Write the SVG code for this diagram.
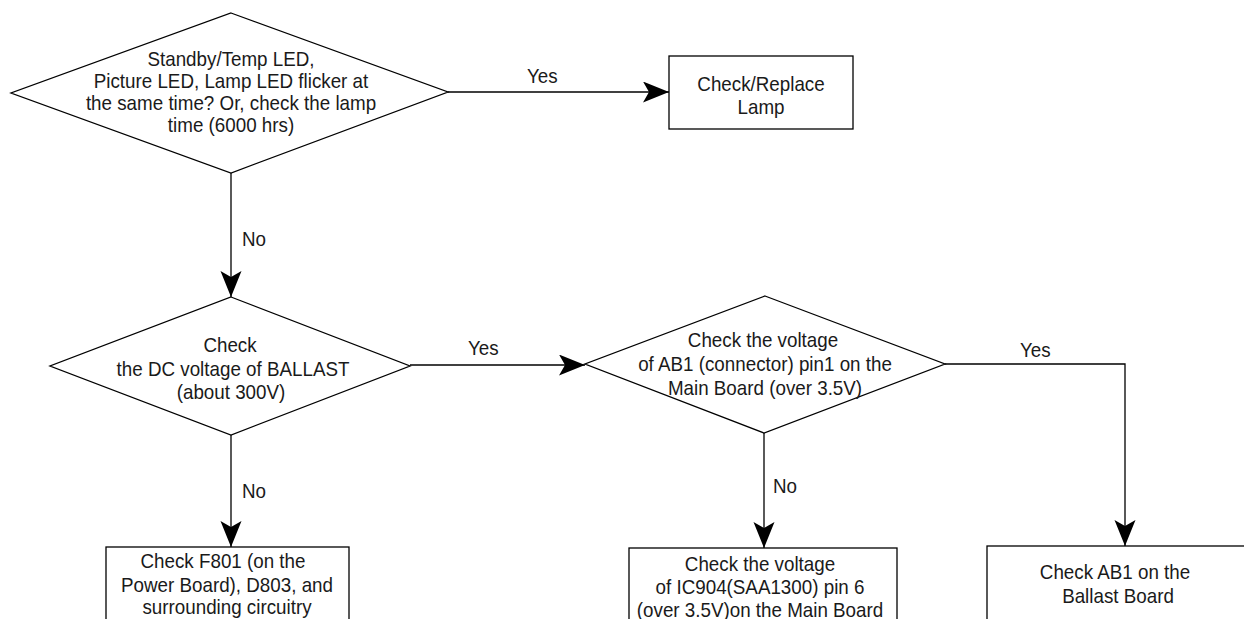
<svg xmlns="http://www.w3.org/2000/svg" width="1244" height="619" viewBox="0 0 1244 619">
<style>
.shape{fill:#fff;stroke:#000;stroke-width:1.3}
.conn{fill:none;stroke:#000;stroke-width:1.3}
text{font-family:"Liberation Sans",Arial,sans-serif;font-size:20px;fill:#1a1a1a;text-anchor:middle}
.lbl{text-anchor:start}
</style>
<defs>
<marker id="arr" markerUnits="userSpaceOnUse" markerWidth="30" markerHeight="24" refX="26" refY="10.5" orient="auto">
<path d="M0,0 L26,10.5 L0,21 L6,10.5 Z" fill="#000"/>
</marker>
</defs>
<g id="connectors">
<line class="conn" x1="448" y1="92" x2="669" y2="92" marker-end="url(#arr)"/>
<text class="lbl" transform="translate(527 83) scale(0.94 1)">Yes</text>
<line class="conn" x1="231" y1="173" x2="231" y2="297" marker-end="url(#arr)"/>
<text class="lbl" transform="translate(242 246) scale(0.94 1)">No</text>
<line class="conn" x1="410" y1="365" x2="585" y2="365" marker-end="url(#arr)"/>
<text class="lbl" transform="translate(468 355) scale(0.94 1)">Yes</text>
<polyline class="conn" points="945,364 1125,364 1125,546" marker-end="url(#arr)"/>
<text class="lbl" transform="translate(1020 357) scale(0.94 1)">Yes</text>
<line class="conn" x1="231" y1="435" x2="231" y2="547" marker-end="url(#arr)"/>
<text class="lbl" transform="translate(242 498) scale(0.94 1)">No</text>
<line class="conn" x1="764" y1="433" x2="764" y2="548" marker-end="url(#arr)"/>
<text class="lbl" transform="translate(773 493) scale(0.94 1)">No</text>
</g>
<g id="d1">
<polygon class="shape" points="231,13 448,92 231,173 11,93"/>
<text transform="translate(231 66) scale(0.94 1)">Standby/Temp LED,</text>
<text transform="translate(231 88) scale(0.94 1)">Picture LED, Lamp LED flicker at</text>
<text transform="translate(231 110) scale(0.94 1)">the same time? Or, check the lamp</text>
<text transform="translate(231 132) scale(0.94 1)">time (6000 hrs)</text>
</g>
<g id="b1">
<rect class="shape" x="669" y="56" width="184" height="73"/>
<text transform="translate(761 91) scale(0.94 1)">Check/Replace</text>
<text transform="translate(761 114) scale(0.94 1)">Lamp</text>
</g>
<g id="d2">
<polygon class="shape" points="231,297 410,366 231,435 50,366"/>
<text transform="translate(230 352) scale(0.94 1)">Check</text>
<text transform="translate(233 376) scale(0.94 1)">the DC voltage of BALLAST</text>
<text transform="translate(231 399) scale(0.94 1)">(about 300V)</text>
</g>
<g id="d3">
<polygon class="shape" points="765,296 945,364 764,433 585,364"/>
<text transform="translate(763 347) scale(0.94 1)">Check the voltage</text>
<text transform="translate(765 371) scale(0.94 1)">of AB1 (connector) pin1 on the</text>
<text transform="translate(765 395) scale(0.94 1)">Main Board (over 3.5V)</text>
</g>
<g id="b2">
<rect class="shape" x="106" y="547" width="243" height="100"/>
<text transform="translate(223 568) scale(0.94 1)">Check F801 (on the</text>
<text transform="translate(227 592) scale(0.94 1)">Power Board), D803, and</text>
<text transform="translate(227 614) scale(0.94 1)">surrounding circuitry</text>
</g>
<g id="b3">
<rect class="shape" x="629" y="548" width="268" height="100"/>
<text transform="translate(760 571) scale(0.94 1)">Check the voltage</text>
<text transform="translate(760 594) scale(0.94 1)">of IC904(SAA1300) pin 6</text>
<text transform="translate(760 617) scale(0.94 1)">(over 3.5V)on the Main Board</text>
</g>
<g id="b4">
<rect class="shape" x="987" y="546" width="280" height="100"/>
<text transform="translate(1115 579) scale(0.94 1)">Check AB1 on the</text>
<text transform="translate(1118 603) scale(0.94 1)">Ballast Board</text>
</g>
</svg>
